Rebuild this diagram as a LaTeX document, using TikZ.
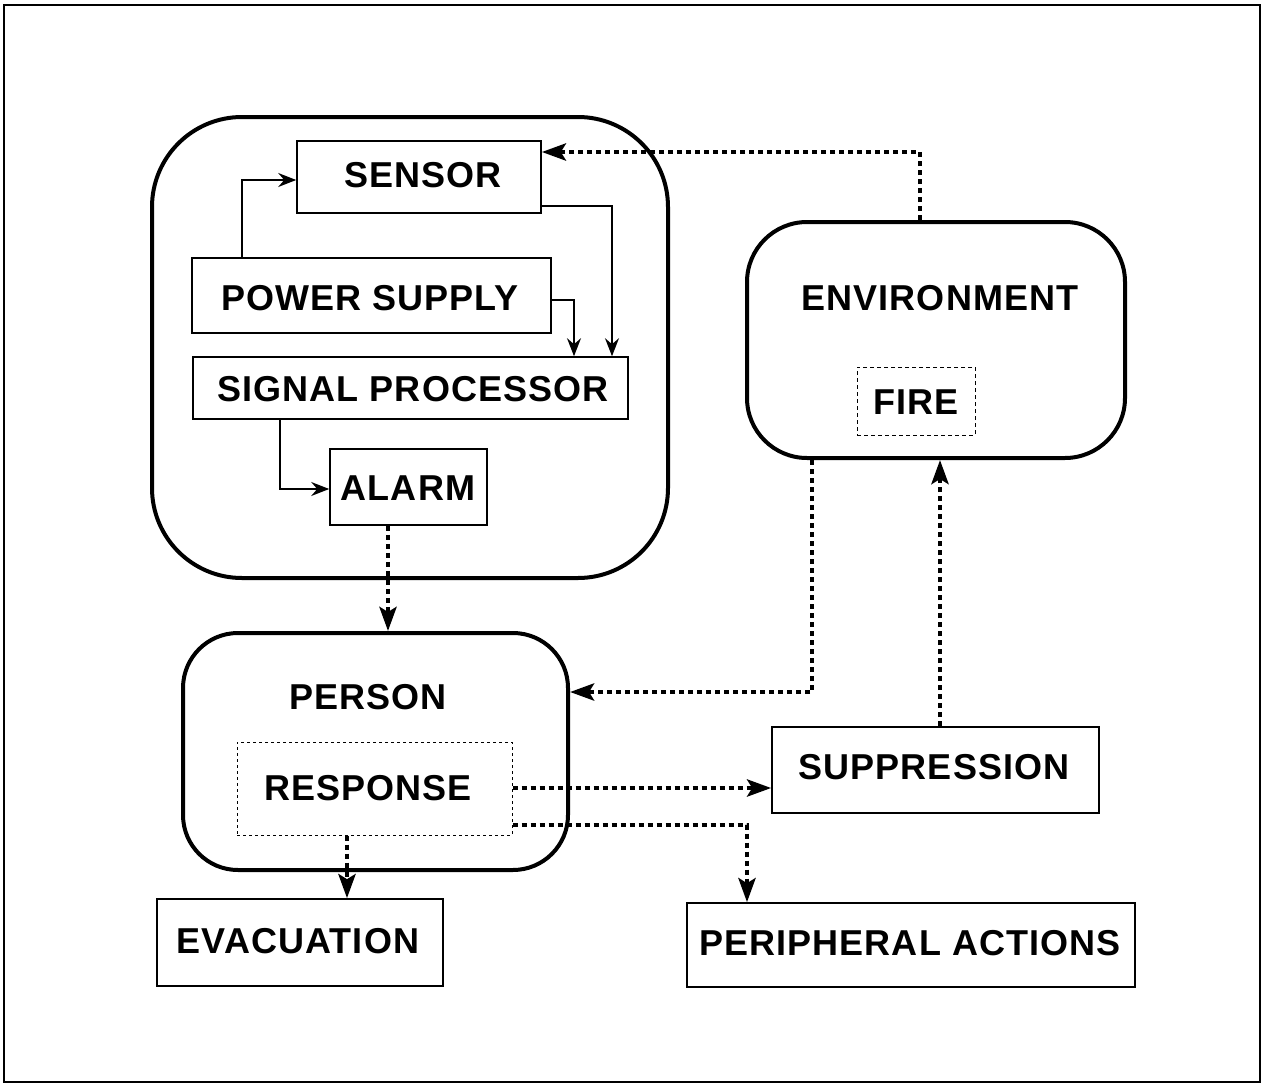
\documentclass[tikz,border=0pt]{standalone}
\usepackage{fontspec}
\setmainfont{Liberation Sans}[LetterSpace=3]
\usetikzlibrary{arrows.meta}
\tikzset{
  txt/.style={font=\bfseries\fontsize{36}{40}\selectfont, inner sep=0pt},
  sqbox/.style={draw, line width=1.6pt, inner sep=0pt},
  roundbox/.style={draw, line width=4pt, rounded corners=#1, inner sep=0pt},
  thinarrow/.style={line width=1.4pt, -{Stealth[length=18pt,width=14pt,inset=6pt]}},
  dotarrow/.style={line width=4.5pt, dash pattern=on 5pt off 4pt, -{Stealth[length=24pt,width=17pt,inset=5pt]}},
}
\begin{document}
\begin{tikzpicture}[x=1pt,y=-1pt]
\useasboundingbox (0,0) rectangle (1264,1084);
\draw[line width=2pt] (4,5) rectangle (1260,1082);

% detector group
\node[roundbox=90pt, minimum width=516pt, minimum height=461pt] (det) at (410,347.5) {};
\node[sqbox, minimum width=244pt, minimum height=72pt] (sensor) at (419,177) {};
\node[txt] (sensortxt) at (423,175) {SENSOR};
\node[sqbox, minimum width=359pt, minimum height=75pt] (ps) at (371.5,295.5) {};
\node[txt] (pstxt) at (370,298) {POWER SUPPLY};
\node[sqbox, minimum width=435pt, minimum height=62pt] (sp) at (410.5,388) {};
\node[txt] (sptxt) at (413,389) {SIGNAL PROCESSOR};
\node[sqbox, minimum width=157pt, minimum height=76pt] (alarm) at (408.5,487) {};
\node[txt] (alarmtxt) at (408,488) {ALARM};

% environment
\node[roundbox=60pt, minimum width=378pt, minimum height=236pt] (env) at (936,340) {};
\node[txt] (envtxt) at (940,298) {ENVIRONMENT};
\node[draw, line width=1pt, dash pattern=on 4pt off 3pt, minimum width=118pt, minimum height=68pt, inner sep=0pt] (fire) at (916,401) {};
\node[txt] (firetxt) at (916,402) {FIRE};

% person
\node[roundbox=55pt, minimum width=385pt, minimum height=237pt] (person) at (375.5,751.5) {};
\node[txt] (persontxt) at (368,697) {PERSON};
\node[draw, line width=1pt, dash pattern=on 3pt off 3pt, minimum width=275pt, minimum height=93pt, inner sep=0pt] (resp) at (374.5,788.5) {};
\node[txt] (resptxt) at (368,788) {RESPONSE};

% outcomes
\node[sqbox, minimum width=327pt, minimum height=86pt] (supp) at (935.5,770) {};
\node[txt] (supptxt) at (934,767) {SUPPRESSION};
\node[sqbox, minimum width=286pt, minimum height=87pt] (evac) at (300,942.5) {};
\node[txt] (evactxt) at (298,941) {EVACUATION};
\node[sqbox, minimum width=448pt, minimum height=84pt] (periph) at (911,945) {};
\node[txt] (periphtxt) at (910,943) {PERIPHERAL ACTIONS};

% helper coordinates
\coordinate (k1) at (242,180);
\coordinate (k2) at (612,206);
\coordinate (k3) at (574,300);
\coordinate (k4) at (280,489);
\coordinate (d1) at (920,152);
\coordinate (d2) at (388,580);
\coordinate (d3) at (812,692);
\coordinate (d4) at (940,600);
\coordinate (d5) at (600,788);
\coordinate (d6) at (747,825);
\coordinate (d7) at (347,870);

% thin connectors
\draw[thinarrow] (ps.north -| k1) |- (sensor.west |- k1);
\draw[thinarrow] (sensor.east |- k2) -| (sp.north -| k2);
\draw[thinarrow] (ps.east |- k3) -| (sp.north -| k3);
\draw[thinarrow] (sp.south -| k4) |- (alarm.west |- k4);

% dotted connectors
\draw[dotarrow] (env.north -| d1) |- (sensor.east |- d1);
\draw[dotarrow] (alarm.south -| d2) -- (person.north -| d2);
\draw[dotarrow] (env.south -| d3) |- (person.east |- d3);
\draw[dotarrow] (supp.north -| d4) -- (env.south -| d4);
\draw[dotarrow] (resp.east |- d5) -- (supp.west |- d5);
\draw[dotarrow] (resp.east |- d6) -| (periph.north -| d6);
\draw[dotarrow] (resp.south -| d7) -- (evac.north -| d7);
\end{tikzpicture}
\end{document}
